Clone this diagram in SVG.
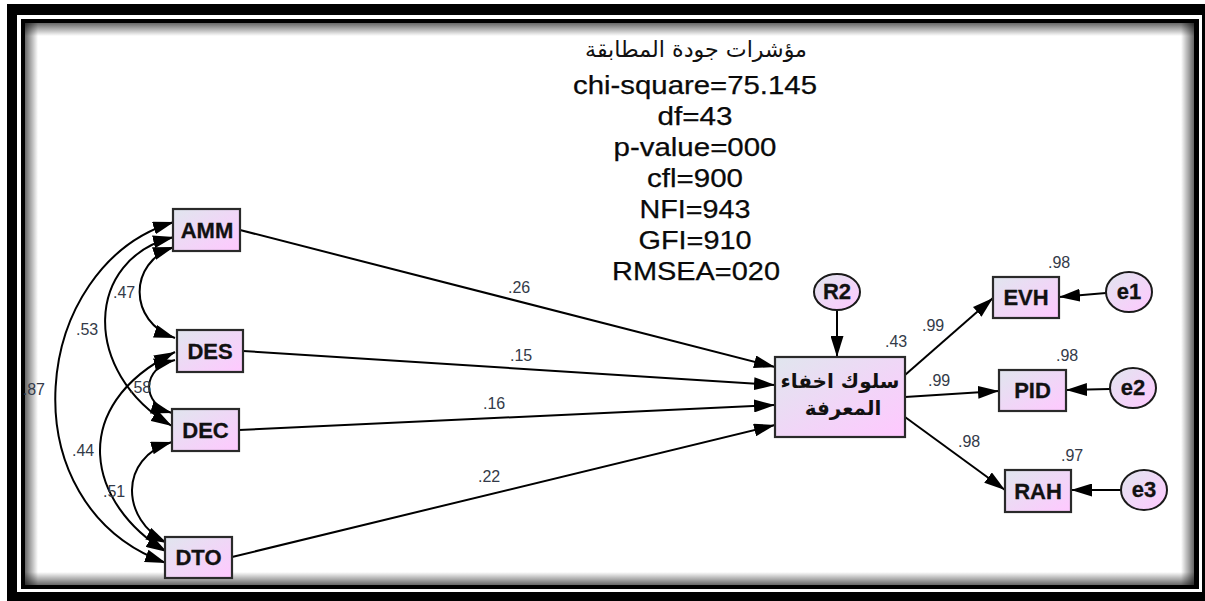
<svg xmlns="http://www.w3.org/2000/svg" width="1205" height="601" viewBox="0 0 1205 601">
  <defs>
    <linearGradient id="boxFill" x1="0" y1="0" x2="1" y2="1">
      <stop offset="0" stop-color="#e0e6ee"/>
      <stop offset="1" stop-color="#ffc8ff"/>
    </linearGradient>
    <linearGradient id="shTop" x1="0" y1="0" x2="0" y2="1">
      <stop offset="0" stop-color="#000" stop-opacity="0.6"/>
      <stop offset="1" stop-color="#000" stop-opacity="0"/>
    </linearGradient>
    <linearGradient id="shBottom" x1="0" y1="1" x2="0" y2="0">
      <stop offset="0" stop-color="#000" stop-opacity="0.6"/>
      <stop offset="1" stop-color="#000" stop-opacity="0"/>
    </linearGradient>
    <linearGradient id="shLeft" x1="0" y1="0" x2="1" y2="0">
      <stop offset="0" stop-color="#000" stop-opacity="0.6"/>
      <stop offset="1" stop-color="#000" stop-opacity="0"/>
    </linearGradient>
    <linearGradient id="shRight" x1="1" y1="0" x2="0" y2="0">
      <stop offset="0" stop-color="#000" stop-opacity="0.6"/>
      <stop offset="1" stop-color="#000" stop-opacity="0"/>
    </linearGradient>
    <marker id="arrow" markerUnits="userSpaceOnUse" markerWidth="21" markerHeight="13" refX="21" refY="6.5" orient="auto-start-reverse">
      <path d="M0,0 L21,6.5 L0,13 z" fill="#000"/>
    </marker>
    <style>
      .box { fill: url(#boxFill); stroke: #2a2a2a; stroke-width: 2.2; }
      .lat { fill: url(#boxFill); stroke: #1a1a1a; stroke-width: 2; }
      .name { font-family: "Liberation Sans", Arial, sans-serif; font-weight: bold; font-size: 22px; fill: #111; stroke: #111; stroke-width: 0.3; text-anchor: middle; }
      .arab { font-family: "DejaVu Sans", "Noto Sans", sans-serif; font-weight: bold; font-size: 20px; fill: #111; text-anchor: middle; }
      .lbl { font-family: "Liberation Sans", Arial, sans-serif; font-size: 16px; fill: #333a48; }
      .fit { font-family: "Liberation Sans", Arial, sans-serif; font-size: 25px; fill: #0a0a0a; stroke: #0a0a0a; stroke-width: 0.25; text-anchor: middle; }
      .fitAr { font-family: "DejaVu Sans", "Noto Sans", sans-serif; font-size: 22px; fill: #111; text-anchor: middle; }
      .path { fill: none; stroke: #000; stroke-width: 2; marker-end: url(#arrow); }
      .cov { fill: none; stroke: #000; stroke-width: 2; marker-start: url(#arrow); marker-end: url(#arrow); }
    </style>
  </defs>

  <!-- double frame with inner shadow -->
  <g id="frame">
    <rect x="7" y="4" width="1198" height="597" fill="#000"/>
    <rect x="17" y="15" width="1185" height="577" fill="#fff"/>
    <rect x="21" y="19" width="1178" height="570" fill="#000"/>
    <rect x="25" y="23" width="1169" height="562" fill="#fff"/>
    <rect x="25" y="23" width="1169" height="13" fill="url(#shTop)"/>
    <rect x="25" y="572" width="1169" height="13" fill="url(#shBottom)"/>
    <rect x="25" y="23" width="13" height="562" fill="url(#shLeft)"/>
    <rect x="1181" y="23" width="13" height="562" fill="url(#shRight)"/>
  </g>

  <!-- fit indices -->
  <g id="fit-indices">
    <text class="fitAr" x="696" y="57" textLength="222" lengthAdjust="spacingAndGlyphs">مؤشرات جودة المطابقة</text>
    <text class="fit" x="695" y="94" textLength="244" lengthAdjust="spacingAndGlyphs">chi-square=75.145</text>
    <text class="fit" x="695" y="125" textLength="75" lengthAdjust="spacingAndGlyphs">df=43</text>
    <text class="fit" x="695" y="156" textLength="163" lengthAdjust="spacingAndGlyphs">p-value=000</text>
    <text class="fit" x="695" y="187" textLength="96" lengthAdjust="spacingAndGlyphs">cfl=900</text>
    <text class="fit" x="695" y="218" textLength="111" lengthAdjust="spacingAndGlyphs">NFI=943</text>
    <text class="fit" x="695" y="249" textLength="113" lengthAdjust="spacingAndGlyphs">GFI=910</text>
    <text class="fit" x="696" y="280" textLength="168" lengthAdjust="spacingAndGlyphs">RMSEA=020</text>
  </g>

  <!-- connectors -->
  <g id="connectors">
    <!-- regression paths -->
    <path class="path" d="M240,230 L775,367"/>
    <path class="path" d="M243,351 L775,385"/>
    <path class="path" d="M239,430 L775,405"/>
    <path class="path" d="M232,557 L775,425"/>
    <path class="path" d="M837,310 L837,357"/>
    <path class="path" d="M905,375 L993,298"/>
    <path class="path" d="M905,397 L999,391"/>
    <path class="path" d="M905,417 L1005,490"/>
    <path class="path" d="M1106,293 L1059,297"/>
    <path class="path" d="M1110,389 L1066,390"/>
    <path class="path" d="M1121,490 L1071,490"/>
    <!-- covariances -->
    <path class="cov" d="M174,222 C30,265 5,505 166,563"/>
    <path class="cov" d="M174,237 C85,258 80,372 172,426"/>
    <path class="cov" d="M174,247 C128,262 128,322 175,338"/>
    <path class="cov" d="M175,360 C141,368 141,404 172,413"/>
    <path class="cov" d="M175,352 C65,407 88,505 167,552"/>
    <path class="cov" d="M172,442 C118,458 121,520 167,543"/>
  </g>

  <!-- coefficient labels -->
  <g id="labels">
    <text class="lbl" x="508" y="293">.26</text>
    <text class="lbl" x="510" y="361">.15</text>
    <text class="lbl" x="483" y="409">.16</text>
    <text class="lbl" x="478" y="482">.22</text>
    <text class="lbl" x="885" y="347">.43</text>
    <text class="lbl" x="922" y="331">.99</text>
    <text class="lbl" x="928" y="386">.99</text>
    <text class="lbl" x="958" y="447">.98</text>
    <text class="lbl" x="1048" y="268">.98</text>
    <text class="lbl" x="1056" y="361">.98</text>
    <text class="lbl" x="1061" y="461">.97</text>
    <text class="lbl" x="113" y="298">.47</text>
    <text class="lbl" x="76" y="335">.53</text>
    <text class="lbl" x="45" y="395" text-anchor="end">.87</text>
    <text class="lbl" x="129" y="393">.58</text>
    <text class="lbl" x="72" y="456">.44</text>
    <text class="lbl" x="103" y="497">.51</text>
  </g>

  <!-- observed predictors -->
  <g id="AMM"><rect class="box" x="173" y="209" width="67" height="42"/><text class="name" x="207" y="238">AMM</text></g>
  <g id="DES"><rect class="box" x="177" y="330" width="66" height="42"/><text class="name" x="210" y="359">DES</text></g>
  <g id="DEC"><rect class="box" x="172" y="409" width="67" height="42"/><text class="name" x="205.5" y="438">DEC</text></g>
  <g id="DTO"><rect class="box" x="165" y="537" width="67" height="41"/><text class="name" x="198.5" y="565">DTO</text></g>

  <!-- outcome -->
  <g id="KH">
    <rect class="box" x="775" y="357" width="130" height="80"/>
    <text class="arab" x="840" y="388">سلوك اخفاء</text>
    <text class="arab" x="843" y="415">المعرفة</text>
  </g>
  <g id="R2"><ellipse class="lat" cx="837" cy="292" rx="23" ry="18"/><text class="name" x="837" y="299">R2</text></g>

  <!-- indicators -->
  <g id="EVH"><rect class="box" x="993" y="277" width="66" height="41"/><text class="name" x="1026" y="305">EVH</text></g>
  <g id="PID"><rect class="box" x="999" y="370" width="67" height="41"/><text class="name" x="1032.5" y="398">PID</text></g>
  <g id="RAH"><rect class="box" x="1005" y="470" width="66" height="42"/><text class="name" x="1038" y="499">RAH</text></g>

  <!-- error terms -->
  <g id="e1"><ellipse class="lat" cx="1129" cy="292" rx="23" ry="20"/><text class="name" x="1129" y="299">e1</text></g>
  <g id="e2"><ellipse class="lat" cx="1133" cy="388" rx="23" ry="20"/><text class="name" x="1133" y="395">e2</text></g>
  <g id="e3"><ellipse class="lat" cx="1144" cy="490" rx="23" ry="20"/><text class="name" x="1144" y="497">e3</text></g>
</svg>
